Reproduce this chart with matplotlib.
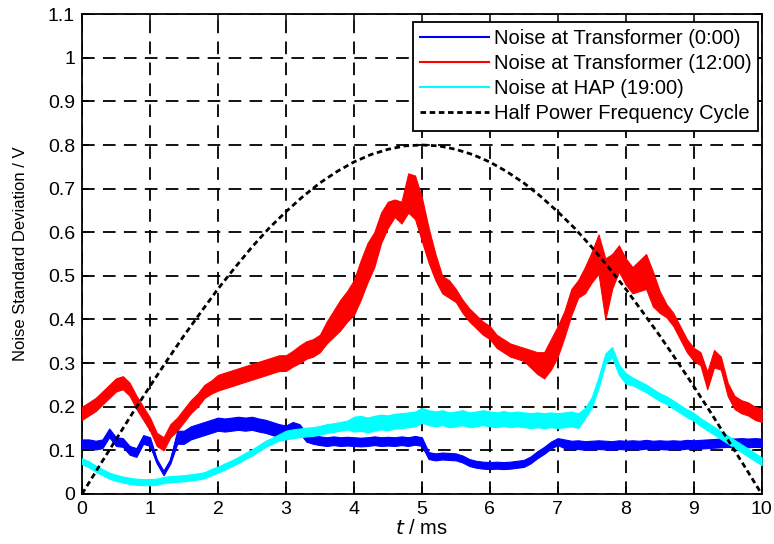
import numpy as np
import matplotlib
matplotlib.use("Agg")
import matplotlib.pyplot as plt

plt.rcParams['font.family'] = ['Liberation Sans', 'DejaVu Sans']

# ---- data ----
t_noise = np.linspace(0, 10, 101)  # ms, 0.1 ms steps

red_center = [
    0.185, 0.195, 0.205, 0.22, 0.235, 0.25, 0.255, 0.24, 0.21, 0.185,
    0.16, 0.125, 0.115, 0.145, 0.16, 0.18, 0.2, 0.215, 0.235, 0.245,
    0.255, 0.26, 0.265, 0.27, 0.275, 0.28, 0.285, 0.29, 0.295, 0.30,
    0.30, 0.31, 0.32, 0.33, 0.335, 0.345, 0.37, 0.39, 0.41, 0.43,
    0.45, 0.49, 0.53, 0.56, 0.61, 0.64, 0.655, 0.645, 0.69, 0.68,
    0.63, 0.57, 0.52, 0.48, 0.47, 0.455, 0.43, 0.41, 0.395, 0.38,
    0.37, 0.35, 0.34, 0.33, 0.325, 0.32, 0.31, 0.30, 0.295, 0.32,
    0.35, 0.39, 0.44, 0.47, 0.49, 0.52, 0.55, 0.47, 0.51, 0.54,
    0.51, 0.49, 0.50, 0.51, 0.47, 0.44, 0.42, 0.40, 0.37, 0.34,
    0.32, 0.31, 0.26, 0.31, 0.30, 0.24, 0.21, 0.20, 0.195, 0.185,
    0.18]
red_spread = (
    [0.015] * 20 + [0.018] * 10 +
    [0.018, 0.018, 0.02, 0.02, 0.02, 0.02, 0.025, 0.03, 0.035, 0.035] +
    [0.04, 0.045, 0.045, 0.04, 0.035, 0.03, 0.02, 0.025, 0.045, 0.05] +
    [0.05, 0.04, 0.03, 0.02, 0.02, 0.015, 0.015, 0.015, 0.015, 0.015] +
    [0.015, 0.015, 0.015, 0.015, 0.015, 0.015, 0.02, 0.025, 0.03, 0.035] +
    [0.035, 0.03, 0.03, 0.02, 0.03, 0.035, 0.045, 0.07, 0.04, 0.03] +
    [0.03, 0.03, 0.035, 0.04, 0.04, 0.025, 0.015, 0.015, 0.015, 0.015] +
    [0.015, 0.015, 0.02, 0.02, 0.015, 0.015, 0.015, 0.015, 0.015, 0.015, 0.015])

cyan_center = [
    0.075, 0.068, 0.058, 0.05, 0.042, 0.037, 0.033, 0.03, 0.028, 0.027,
    0.027, 0.028, 0.032, 0.034, 0.035, 0.036, 0.038, 0.04, 0.043, 0.05,
    0.056, 0.063, 0.07, 0.078, 0.087, 0.095, 0.105, 0.115, 0.122, 0.13,
    0.135, 0.138, 0.14, 0.142, 0.143, 0.146, 0.15, 0.152, 0.155, 0.158,
    0.16, 0.162, 0.158, 0.162, 0.165, 0.163, 0.167, 0.168, 0.17, 0.172,
    0.18, 0.175, 0.172, 0.175, 0.17, 0.172, 0.175, 0.17, 0.172, 0.175,
    0.172, 0.17, 0.173, 0.17, 0.172, 0.17, 0.168, 0.17, 0.168, 0.17,
    0.168, 0.17, 0.172, 0.168, 0.185, 0.21, 0.255, 0.31, 0.325, 0.285,
    0.265, 0.258, 0.25, 0.242, 0.232, 0.222, 0.215, 0.205, 0.195, 0.185,
    0.177, 0.165, 0.155, 0.145, 0.135, 0.125, 0.115, 0.105, 0.095, 0.085,
    0.075]
cyan_spread = [0.007] * 30 + [0.01] * 10 + [0.017] * 34 + [0.012] * 7 + [0.009] * 20

blue_center = [
    0.115, 0.115, 0.112, 0.115, 0.14, 0.12, 0.118, 0.10, 0.095, 0.125,
    0.12, 0.075, 0.048, 0.075, 0.13, 0.13, 0.14, 0.145, 0.15, 0.155,
    0.16, 0.158, 0.16, 0.162, 0.16, 0.162, 0.158, 0.155, 0.15, 0.145,
    0.142, 0.155, 0.15, 0.13, 0.125, 0.122, 0.12, 0.122, 0.12, 0.121,
    0.12, 0.119, 0.12, 0.122, 0.12, 0.121, 0.12, 0.122, 0.12, 0.123,
    0.12, 0.088, 0.085, 0.087, 0.086, 0.085, 0.08, 0.072, 0.068, 0.066,
    0.065, 0.066, 0.065, 0.066, 0.068, 0.07, 0.078, 0.09, 0.10, 0.112,
    0.12, 0.115, 0.112, 0.113, 0.111, 0.112, 0.113, 0.112, 0.111, 0.113,
    0.112, 0.113, 0.112, 0.114, 0.112, 0.113, 0.112, 0.113, 0.112, 0.114,
    0.113, 0.114, 0.115, 0.116, 0.117, 0.118, 0.117, 0.118, 0.117, 0.118,
    0.117]
blue_spread = [0.01] * 11 + [0.005] * 3 + [0.015] * 17 + [0.01] * 20 + [0.008] * 20 + [0.01] * 30

t_cycle = np.linspace(0, 10, 41)
cycle = [0, 0.063, 0.125, 0.187, 0.247, 0.306, 0.363, 0.417, 0.470, 0.519,
         0.566, 0.609, 0.647, 0.682, 0.713, 0.739, 0.761, 0.778, 0.790, 0.798,
         0.800, 0.798, 0.790, 0.778, 0.761, 0.739, 0.713, 0.682, 0.647, 0.609,
         0.566, 0.519, 0.470, 0.417, 0.363, 0.306, 0.247, 0.187, 0.125, 0.063, 0]

labels = ["Noise at Transformer (0:00)", "Noise at Transformer (12:00)",
          "Noise at HAP (19:00)", "Half Power Frequency Cycle"]
xticks = list(range(0, 11))
yticks = [0, 0.1, 0.2, 0.3, 0.4, 0.5, 0.6, 0.7, 0.8, 0.9, 1, 1.1]
ytick_labels = ["0", "0.1", "0.2", "0.3", "0.4", "0.5", "0.6", "0.7", "0.8", "0.9", "1", "1.1"]

# ---- figure ----
fig = plt.figure(figsize=(7.74, 5.44), dpi=100)
ax = fig.add_axes([0.106, 0.092, 0.878, 0.882])

def band(center, spread, color, z, label):
    c = np.array(center)
    s = np.array(spread)
    ax.fill_between(t_noise, c - s, c + s, color=color, lw=0.8, zorder=z)
    ax.plot(t_noise, c, color=color, lw=1.5, zorder=z, label=label)

band(red_center, red_spread, '#ff0000', 3, labels[1])
band(blue_center, blue_spread, '#0000ff', 4, labels[0])
band(cyan_center, cyan_spread, '#00ffff', 5, labels[2])
ax.plot(t_cycle, cycle, color='black', lw=2.0, dashes=(2.0, 1.3), zorder=6, label=labels[3])

ax.set_xlim(0, 10)
ax.set_ylim(0, 1.1)
ax.set_xticks(xticks)
ax.set_yticks(yticks)
ax.set_yticklabels(ytick_labels)
ax.tick_params(direction='in', length=5, width=1.1, top=True, right=True,
               labelsize=14, colors='black', pad=5)
for sp in ax.spines.values():
    sp.set_linewidth(1.3)
ax.grid(True, color='black', linestyle=(0, (7, 4.6)), linewidth=1.3)
ax.set_axisbelow(True)

ax.set_xlabel(r"$\it{t}$ / ms", fontsize=14.5, labelpad=1)
ax.set_ylabel("Noise Standard Deviation / V", fontsize=12, labelpad=14)

handles, labs = ax.get_legend_handles_labels()
order = [labs.index(l) for l in labels]
leg = ax.legend([handles[i] for i in order], [labs[i] for i in order],
                loc='upper right', bbox_to_anchor=(0.995, 0.983), borderaxespad=0,
                fontsize=14.5, frameon=True, fancybox=False, framealpha=1,
                edgecolor='black', handlelength=3.4, handletextpad=0.25,
                labelspacing=0.3, borderpad=0.35)
leg.get_frame().set_linewidth(1.3)
leg.set_zorder(10)

fig.savefig("out.png", dpi=100)
